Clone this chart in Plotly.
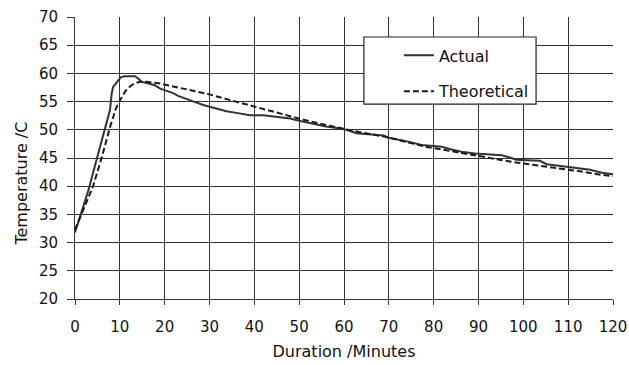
import plotly.graph_objects as go

# ---- data ----
actual_t = [0, 1, 2, 3, 4, 5, 6, 7, 7.8, 8.2, 8.5, 9.5, 10.2, 11, 13.4, 14.1, 14.9, 16,
            17.8, 19, 20, 21.9, 23, 24.9, 26.5, 28.6, 31, 33.8, 36, 39, 42, 44.2, 45.7,
            48, 50, 53.2, 56, 58.4, 60.5, 62.8, 66, 68.8, 70, 72, 74.3, 77.3, 79.5, 81.8,
            84, 86.2, 89.2, 92, 95.2, 97, 98.4, 101, 103.7, 105.2, 108, 110, 111.9, 114.9,
            117.5, 120]
actual_temp = [31.8, 34.3, 36.8, 39.3, 42.3, 45.3, 48.5, 51.5, 53.5, 56.5, 57.6, 58.6, 59.3,
               59.5, 59.5, 59.1, 58.5, 58.3, 57.9, 57.3, 57.0, 56.5, 56.0, 55.4, 55.0, 54.4,
               53.9, 53.3, 53.0, 52.6, 52.6, 52.4, 52.3, 52.0, 51.6, 51.0, 50.6, 50.3, 50.0,
               49.4, 49.2, 49.0, 48.6, 48.3, 47.9, 47.3, 47.2, 47.0, 46.5, 46.1, 45.8, 45.7,
               45.5, 45.1, 44.7, 44.6, 44.5, 43.9, 43.6, 43.4, 43.2, 42.9, 42.4, 42.1]

theo_t = [0, 2, 4, 6, 7, 8, 8.4, 9, 9.7, 10.5, 11.2, 12, 12.6, 13.5, 14.5, 16, 17, 19, 21.2,
          25, 29.4, 34, 39, 44, 49, 54, 59, 64, 69, 74, 78.8, 84, 88.6, 94, 98.4, 103,
          108.2, 113, 117.5, 120]
theo_temp = [32.3, 36.0, 39.9, 45.2, 48.3, 51.0, 51.9, 53.5, 54.8, 56.0, 56.8, 57.5, 57.9,
             58.3, 58.5, 58.5, 58.4, 58.2, 57.8, 57.2, 56.4, 55.4, 54.3, 53.3, 52.2, 51.2,
             50.3, 49.5, 48.8, 47.8, 46.9, 46.2, 45.5, 44.8, 44.2, 43.7, 43.2, 42.6, 42.0,
             41.8]

x_ticks = list(range(0, 121, 10))
y_ticks = list(range(20, 71, 5))

FONT = "DejaVu Sans, Arial, sans-serif"

fig = go.Figure()
fig.add_trace(go.Scatter(x=actual_t, y=actual_temp, mode="lines", name="Actual",
                         legendgroup="a",
                         line=dict(color="#333333", width=2)))
fig.add_trace(go.Scatter(x=theo_t, y=theo_temp, mode="lines", name="Theoretical",
                         legendgroup="b",
                         line=dict(color="#1a1a1a", width=2, dash="6px,3px")))

fig.update_layout(
    width=629, height=365,
    margin=dict(l=75, r=16, t=17, b=66),
    paper_bgcolor="white", plot_bgcolor="white",
    font=dict(family=FONT, size=15, color="#111"),
    showlegend=True,
    legend=dict(x=0.602, y=0.924, xanchor="left", yanchor="top",
                bgcolor="rgba(0,0,0,0)", borderwidth=0,
                font=dict(size=16, family=FONT, color="#111"),
                tracegroupgap=12, itemwidth=30),
    shapes=[dict(type="rect", xref="paper", yref="paper",
                 x0=0.537, x1=0.857, y0=0.691, y1=0.929,
                 fillcolor="white", line=dict(color="#222", width=1.2),
                 layer="above")],
    annotations=[dict(text="Temperature /C", xref="paper", yref="paper",
                      x=-0.10, y=0.41, textangle=-90, showarrow=False,
                      xanchor="center", yanchor="middle",
                      font=dict(size=16, family=FONT, color="#111"))],
)
fig.update_xaxes(range=[0, 120], tickvals=x_ticks, ticktext=[str(v) for v in x_ticks],
                 showgrid=True, gridcolor="#333", gridwidth=1,
                 zeroline=False, showline=True, linecolor="#333", linewidth=1,
                 mirror=False, ticks="outside", ticklen=5, tickcolor="#333",
                 tickfont=dict(size=15), ticklabelstandoff=9, automargin=False,
                 title=dict(text="Duration /Minutes", font=dict(size=16), standoff=10))
fig.update_yaxes(range=[20, 70], tickvals=y_ticks, ticktext=[str(v) for v in y_ticks],
                 showgrid=True, gridcolor="#333", gridwidth=1,
                 zeroline=False, showline=True, linecolor="#333", linewidth=1,
                 ticks="outside", ticklen=7, tickcolor="#333", automargin=False,
                 tickfont=dict(size=15), ticklabelstandoff=6)

fig.write_html("out.html")
